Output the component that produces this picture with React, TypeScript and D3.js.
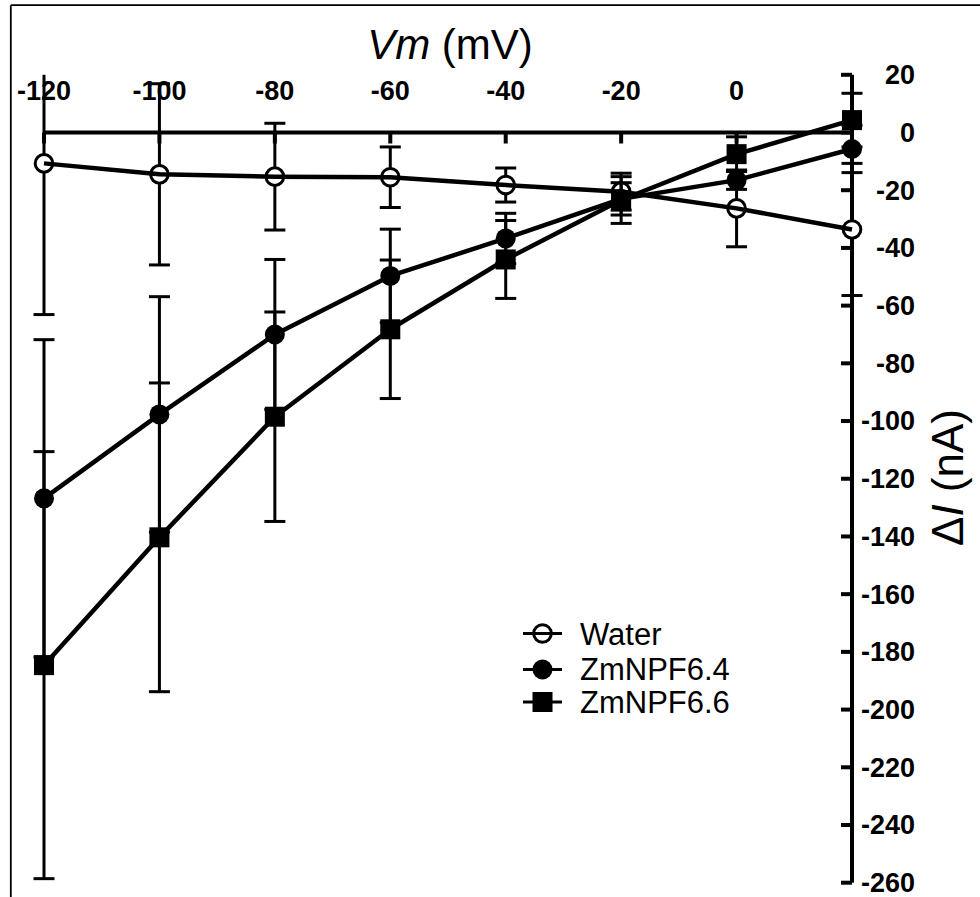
import React from 'react';
import * as d3 from 'd3';

const voltages = [-120, -100, -80, -60, -40, -20, 0, 20];

const waterMean = [-10.7, -14.5, -15.3, -15.5, -18.2, -20.5, -26.3, -33.6];
const waterErr = [52.4, 31.4, 18.5, 10.5, 5.9, 6.4, 13.3, 22.9];

const npf64Mean = [-126.8, -97.7, -70, -49.7, -36.7, -23, -16.5, -5.7];
const npf64Err = [55, 40.8, 26, 16.2, 8.7, 5.6, 3.2, 8.2];

const npf66Mean = [-184.6, -140.3, -98.5, -68.2, -44, -23.4, -7.5, 4.3];
const npf66Err = [74, 53.5, 36.3, 24, 13.5, 8.1, 6, 9.3];

const seriesNames = ['Water', 'ZmNPF6.4', 'ZmNPF6.6'];
const seriesSymbols = ['openCircle', 'filledCircle', 'filledSquare'];

const xTickValues = [-120, -100, -80, -60, -40, -20, 0];
const yTickValues = [20, 0, -20, -40, -60, -80, -100, -120, -140, -160, -180, -200, -220, -240, -260];

const FONT = '"Liberation Sans", Arial, Helvetica, sans-serif';

function Marker({ kind, cx, cy }: { kind: string; cx: number; cy: number }) {
  if (kind === 'openCircle') {
    return <circle cx={cx} cy={cy} r={8.8} fill="#fff" stroke="#000" strokeWidth={3} />;
  }
  if (kind === 'filledCircle') {
    return <circle cx={cx} cy={cy} r={10} fill="#000" />;
  }
  return <rect x={cx - 10} y={cy - 10} width={20} height={20} fill="#000" />;
}

export default function App() {
  const W = 980;
  const H = 897;
  const x = d3.scaleLinear().domain([-120, 20]).range([44, 852]);
  const y = d3.scaleLinear().domain([-260, 20]).range([882.7, 74.8]);
  const yMax = 20;

  const series = [
    { name: seriesNames[0], sym: seriesSymbols[0], mean: waterMean, err: waterErr },
    { name: seriesNames[1], sym: seriesSymbols[1], mean: npf64Mean, err: npf64Err },
    { name: seriesNames[2], sym: seriesSymbols[2], mean: npf66Mean, err: npf66Err },
  ];

  const line = d3
    .line<number>()
    .x((_, i) => x(voltages[i]))
    .y((d) => y(d));

  const capHalf = 10.5;

  const legendX0 = 523;
  const legendX1 = 562;
  const legendRowsY = [633.5, 669.5, 702];
  const legendTextY = [645, 680, 713];

  return (
    <svg
      width={W}
      height={H}
      style={{ position: 'absolute', left: 0, top: 0, background: '#fff' }}
      fontFamily={FONT}
    >
      <rect x={0} y={0} width={W} height={H} fill="#fff" />
      {/* frame */}
      <line x1={10.8} y1={5.2} x2={W} y2={5.2} stroke="#000" strokeWidth={1.8} />
      <line x1={10.8} y1={5.2} x2={10.8} y2={H} stroke="#000" strokeWidth={1.8} />

      {/* axis titles */}
      <text x={450} y={58.5} textAnchor="middle" fontSize={42} fill="#000">
        <tspan fontStyle="italic">Vm</tspan> (mV)
      </text>
      <text
        transform={`translate(962.5,477.5) rotate(-90)`}
        textAnchor="middle"
        fontSize={44}
        fill="#000"
      >
        Δ<tspan fontStyle="italic">I</tspan> (nA)
      </text>

      {/* x tick labels */}
      {xTickValues.map((v) => (
        <text key={'xl' + v} x={x(v)} y={99.5} textAnchor="middle" fontSize={27} fontWeight="bold" fill="#000">
          {v}
        </text>
      ))}
      {/* y tick labels */}
      {yTickValues.map((v) => (
        <text
          key={'yl' + v}
          x={915}
          y={y(v)}
          dy="0.35em"
          textAnchor="end"
          fontSize={27}
          fontWeight="bold"
          fill="#000"
        >
          {v}
        </text>
      ))}

      {/* x axis */}
      <line x1={x(-120)} y1={y(0)} x2={x(20)} y2={y(0)} stroke="#000" strokeWidth={4} />
      {xTickValues.map((v) => (
        <line key={'xt' + v} x1={x(v)} x2={x(v)} y1={y(0)} y2={y(0) + 11} stroke="#000" strokeWidth={4} />
      ))}
      {/* y axis */}
      <line x1={x(20)} y1={y(20)} x2={x(20)} y2={y(-260)} stroke="#000" strokeWidth={4} />
      {yTickValues.map((v) => (
        <line key={'yt' + v} x1={x(20) - 11} x2={x(20)} y1={y(v)} y2={y(v)} stroke="#000" strokeWidth={4} />
      ))}

      {/* series */}
      {series.map((s) => (
        <g key={s.name}>
          {s.mean.map((m, i) => {
            const cx = x(voltages[i]);
            const top = m + s.err[i];
            const bot = m - s.err[i];
            const clipped = top > yMax;
            const yt = y(Math.min(top, yMax));
            const yb = y(bot);
            return (
              <g key={i} stroke="#000" strokeWidth={3}>
                <line x1={cx} x2={cx} y1={yt} y2={yb} />
                {!clipped && <line x1={cx - capHalf} x2={cx + capHalf} y1={yt} y2={yt} />}
                <line x1={cx - capHalf} x2={cx + capHalf} y1={yb} y2={yb} />
              </g>
            );
          })}
          {s.mean.map((m, i) => (
            <Marker key={'m' + i} kind={s.sym} cx={x(voltages[i])} cy={y(m)} />
          ))}
          <path d={line(s.mean) || ''} fill="none" stroke="#000" strokeWidth={4.5} strokeLinejoin="round" />
        </g>
      ))}

      {/* legend */}
      {series.map((s, i) => (
        <g key={'lg' + s.name}>
          <Marker kind={s.sym} cx={(legendX0 + legendX1) / 2} cy={legendRowsY[i]} />
          <line x1={legendX0} x2={legendX1} y1={legendRowsY[i]} y2={legendRowsY[i]} stroke="#000" strokeWidth={3} />
          <text x={580} y={legendTextY[i]} fontSize={31} fill="#000">
            {s.name}
          </text>
        </g>
      ))}
    </svg>
  );
}
